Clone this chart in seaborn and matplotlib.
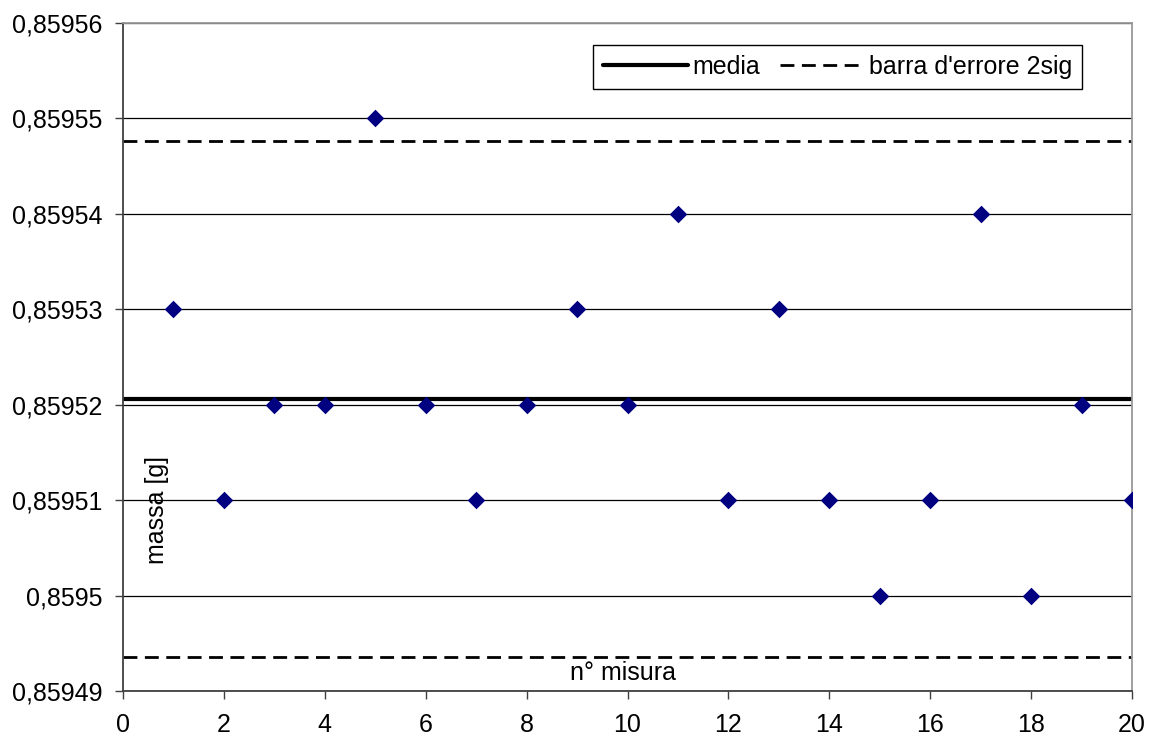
import matplotlib

matplotlib.use("Agg")
import matplotlib.pyplot as plt
import pandas as pd
import seaborn as sns
from matplotlib.ticker import FuncFormatter, MultipleLocator

# ───────────────────────────────────────────────────────────────
# Data
# ───────────────────────────────────────────────────────────────
misura = list(range(1, 21))
massa = [
    0.85953, 0.85951, 0.85952, 0.85952, 0.85955,
    0.85952, 0.85951, 0.85952, 0.85953, 0.85952,
    0.85954, 0.85951, 0.85953, 0.85951, 0.85950,
    0.85951, 0.85954, 0.85950, 0.85952, 0.85951,
]
media = 0.8595206
errore_2sig = 0.0000270

df = pd.DataFrame({"misura": misura, "massa": massa})

# ───────────────────────────────────────────────────────────────
# Style
# ───────────────────────────────────────────────────────────────
sns.set_theme(style="white")
plt.rcParams["font.family"] = ["Liberation Sans", "DejaVu Sans"]
plt.rcParams["text.color"] = "black"
plt.rcParams["axes.labelcolor"] = "black"
plt.rcParams["xtick.labelcolor"] = "black"
plt.rcParams["ytick.labelcolor"] = "black"
FS = 18


def comma_fmt(v, _pos):
    s = f"{v:.5f}".rstrip("0").rstrip(".")
    return s.replace(".", ",")


# ───────────────────────────────────────────────────────────────
# Plot
# ───────────────────────────────────────────────────────────────
fig, ax = plt.subplots(figsize=(11.5, 7.4), dpi=100)
fig.subplots_adjust(left=123 / 1150, right=1132 / 1150, top=1 - 23 / 740, bottom=1 - 691 / 740)

ax.grid(axis="y", color="black", linewidth=0.9)
ax.set_axisbelow(True)

ax.axhline(media, color="black", linewidth=3.0, label="media", zorder=2)
ax.axhline(media + errore_2sig, color="black", linewidth=2.0,
           linestyle=(0, (5, 2.7)), label="barra d'errore 2sig", zorder=2)
ax.axhline(media - errore_2sig, color="black", linewidth=2.0,
           linestyle=(0, (5, 2.7)), zorder=2)

sns.scatterplot(data=df, x="misura", y="massa", marker="D", s=80,
                color="#000080", linewidth=0, ax=ax, zorder=3)

ax.set_xlim(0, 20)
ax.set_ylim(0.85949, 0.85956)
ax.xaxis.set_major_locator(MultipleLocator(2))
ax.yaxis.set_major_locator(MultipleLocator(0.00001))
ax.yaxis.set_major_formatter(FuncFormatter(comma_fmt))
ax.tick_params(axis="both", labelsize=FS, length=6, width=1, color="#404040",
               labelcolor="black", direction="out", left=True, bottom=True)
ax.tick_params(axis="y", pad=9)
ax.tick_params(axis="x", pad=10)

for side in ["left", "bottom"]:
    ax.spines[side].set_color("#404040")
    ax.spines[side].set_linewidth(1.3)
for side in ["top", "right"]:
    ax.spines[side].set_color("#999999")
    ax.spines[side].set_linewidth(1.3)

ax.set_xlabel("n° misura", fontsize=FS, color="black")
ax.set_ylabel("massa [g]", fontsize=FS, color="black")
ax.xaxis.set_label_coords(0.4955, 0.027)
ax.xaxis.label.set_va("center")
ax.yaxis.set_label_coords(0.034, 0.271)
ax.yaxis.label.set_va("center")

leg = ax.legend(loc="upper right", bbox_to_anchor=(0.9504, 0.967), ncol=2,
                fontsize=FS, frameon=True, fancybox=False, borderaxespad=0,
                handlelength=3.4, handletextpad=0.15, columnspacing=0.8,
                borderpad=0.4)
leg.get_frame().set_edgecolor("black")
leg.get_frame().set_linewidth(1.0)
leg.get_frame().set_alpha(1)
for t in leg.get_texts():
    t.set_color("black")

fig.savefig("out.png", dpi=100)
plt.close(fig)
